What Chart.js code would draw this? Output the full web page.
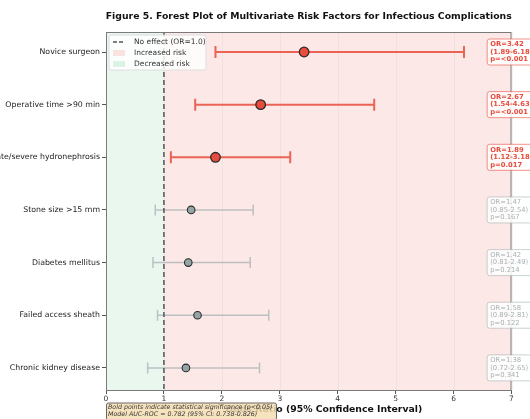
<!DOCTYPE html>
<html>
<head>
<meta charset="utf-8">
<script src="https://cdn.jsdelivr.net/npm/chart.js@4.4.1/dist/chart.umd.min.js"></script>
<style>
  html, body { margin: 0; padding: 0; background: #ffffff; }
  #wrap { width: 530px; height: 419px; }
</style>
</head>
<body>
<div id="wrap"><canvas id="forest" width="530" height="419"></canvas></div>
<script>
// Risk factors (top to bottom) with odds ratios and 95% CIs
const factors = [
  'Novice surgeon',
  'Operative time >90 min',
  'Moderate/severe hydronephrosis',
  'Stone size >15 mm',
  'Diabetes mellitus',
  'Failed access sheath',
  'Chronic kidney disease'
];
const oddsRatio = [3.42, 2.67, 1.89, 1.47, 1.42, 1.58, 1.38];
const ciLower   = [1.89, 1.54, 1.12, 0.85, 0.81, 0.89, 0.72];
const ciUpper   = [6.18, 4.63, 3.18, 2.54, 2.49, 2.81, 2.65];
const pLabels   = ['<0.001', '<0.001', '0.017', '0.167', '0.214', '0.122', '0.341'];
const significant = [true, true, true, false, false, false, false];
const xTicks = [0, 1, 2, 3, 4, 5, 6, 7];

const RED = '#e74c3c';
const GRAY = '#95a5a6';
const FONT = "'DejaVu Sans', sans-serif";

const points = oddsRatio.map((v, i) => ({ x: v, y: i }));

// Shaded regions, reference line, CIs, legend, value boxes and captions
const forestPlugin = {
  id: 'forestDecor',
  beforeDatasetsDraw(chart) {
    const { ctx, chartArea: a, scales: { x, y } } = chart;
    const one = x.getPixelForValue(1);
    ctx.save();
    // decreased / increased risk regions
    ctx.fillStyle = 'rgba(39,174,96,0.10)';
    ctx.fillRect(a.left, a.top, one - a.left, a.bottom - a.top);
    ctx.fillStyle = 'rgba(231,76,60,0.13)';
    ctx.fillRect(one, a.top, a.right - one, a.bottom - a.top);
    // faint vertical grid
    ctx.strokeStyle = 'rgba(190,190,190,0.25)';
    ctx.lineWidth = 0.8;
    xTicks.forEach(t => {
      const px = Math.round(x.getPixelForValue(t)) + 0.5;
      ctx.beginPath(); ctx.moveTo(px, a.top); ctx.lineTo(px, a.bottom); ctx.stroke();
    });
    // confidence intervals with caps
    factors.forEach((f, i) => {
      const sig = significant[i];
      const py = y.getPixelForValue(i);
      const x0 = x.getPixelForValue(ciLower[i]);
      const x1 = x.getPixelForValue(ciUpper[i]);
      const cap = sig ? 6 : 5.5;
      ctx.strokeStyle = sig ? 'rgba(231,76,60,0.85)' : 'rgba(170,178,180,0.75)';
      ctx.lineWidth = sig ? 2 : 1.5;
      ctx.beginPath();
      ctx.moveTo(x0, py); ctx.lineTo(x1, py);
      ctx.moveTo(x0, py - cap); ctx.lineTo(x0, py + cap);
      ctx.moveTo(x1, py - cap); ctx.lineTo(x1, py + cap);
      ctx.stroke();
    });
    // no-effect reference line
    ctx.strokeStyle = '#555555';
    ctx.lineWidth = 1.5;
    ctx.setLineDash([5, 3]);
    ctx.beginPath(); ctx.moveTo(one, a.top); ctx.lineTo(one, a.bottom); ctx.stroke();
    ctx.setLineDash([]);
    ctx.restore();
  },
  afterDraw(chart) {
    const { ctx, chartArea: a, scales: { x, y } } = chart;
    ctx.save();
    // frame
    ctx.strokeStyle = '#7a7a7a';
    ctx.lineWidth = 1;
    ctx.strokeRect(a.left + 0.5, a.top + 0.5, a.right - a.left - 1, a.bottom - a.top);

    // legend
    const lx = a.left + 3, ly = a.top + 3;
    ctx.fillStyle = 'rgba(255,255,255,0.85)';
    ctx.strokeStyle = '#dddddd';
    ctx.lineWidth = 1;
    roundRect(ctx, lx, ly, 97, 35, 2); ctx.fill(); ctx.stroke();
    ctx.font = '7.5px ' + FONT;
    ctx.textBaseline = 'middle';
    ctx.textAlign = 'left';
    const items = [
      { t: 'No effect (OR=1.0)', kind: 'line' },
      { t: 'Increased risk', kind: 'box', c: 'rgba(231,76,60,0.15)' },
      { t: 'Decreased risk', kind: 'box', c: 'rgba(39,174,96,0.15)' }
    ];
    items.forEach((it, k) => {
      const iy = ly + 7 + k * 11;
      if (it.kind === 'line') {
        ctx.strokeStyle = '#555555'; ctx.lineWidth = 1.5; ctx.setLineDash([4, 2]);
        ctx.beginPath(); ctx.moveTo(lx + 4, iy); ctx.lineTo(lx + 16, iy); ctx.stroke();
        ctx.setLineDash([]);
      } else {
        ctx.fillStyle = it.c; ctx.fillRect(lx + 4, iy - 3, 12, 6);
      }
      ctx.fillStyle = '#333333';
      ctx.fillText(it.t, lx + 25, iy + 0.5);
    });

    // value boxes on the right
    factors.forEach((f, i) => {
      const sig = significant[i];
      const py = y.getPixelForValue(i);
      const bx = x.getPixelForValue(6.58);
      ctx.fillStyle = 'rgba(255,255,255,0.85)';
      ctx.strokeStyle = sig ? 'rgba(231,76,60,0.6)' : 'rgba(149,165,166,0.5)';
      ctx.lineWidth = 1;
      roundRect(ctx, bx, py - 13, 48, 26, 2.5); ctx.fill(); ctx.stroke();
      ctx.fillStyle = sig ? RED : '#a6b1b2';
      ctx.font = (sig ? 'bold ' : '') + '6.8px ' + FONT;
      ctx.textAlign = 'left';
      ctx.textBaseline = 'middle';
      const lines = [
        'OR=' + oddsRatio[i].toFixed(2),
        '(' + ciLower[i].toFixed(2) + '-' + ciUpper[i].toFixed(2) + ')',
        'p=' + pLabels[i]
      ];
      lines.forEach((s, k) => ctx.fillText(s, bx + 3, py - 7.5 + k * 7.5));
    });

    // title
    ctx.fillStyle = '#111111';
    ctx.font = 'bold 9.3px ' + FONT;
    ctx.textAlign = 'center';
    ctx.textBaseline = 'middle';
    ctx.fillText('Figure 5. Forest Plot of Multivariate Risk Factors for Infectious Complications',
      (a.left + a.right) / 2, 17);

    // x-axis title
    ctx.font = 'bold 9.3px ' + FONT;
    ctx.fillText('Odds Ratio (95% Confidence Interval)', (a.left + a.right) / 2 + 15, a.bottom + 19.5);

    // footnote box
    const fx = a.left, fy = a.bottom + 12.5;
    ctx.fillStyle = 'rgba(245,222,179,0.85)';
    ctx.strokeStyle = '#444444';
    ctx.lineWidth = 0.8;
    roundRect(ctx, fx + 0.5, fy + 0.5, 170, 17, 2); ctx.fill(); ctx.stroke();
    ctx.fillStyle = '#333333';
    ctx.font = 'italic 6.3px ' + FONT;
    ctx.textAlign = 'left';
    ctx.fillText('Bold points indicate statistical significance (p<0.05)', fx + 2, fy + 5);
    ctx.fillText('Model AUC-ROC = 0.782 (95% CI: 0.738-0.826)', fx + 2, fy + 12);
    ctx.restore();
  }
};

function roundRect(ctx, x, y, w, h, r) {
  ctx.beginPath();
  ctx.moveTo(x + r, y);
  ctx.lineTo(x + w - r, y);
  ctx.quadraticCurveTo(x + w, y, x + w, y + r);
  ctx.lineTo(x + w, y + h - r);
  ctx.quadraticCurveTo(x + w, y + h, x + w - r, y + h);
  ctx.lineTo(x + r, y + h);
  ctx.quadraticCurveTo(x, y + h, x, y + h - r);
  ctx.lineTo(x, y + r);
  ctx.quadraticCurveTo(x, y, x + r, y);
  ctx.closePath();
}

new Chart(document.getElementById('forest'), {
  type: 'scatter',
  data: {
    datasets: [{
      data: points,
      pointRadius: significant.map(s => s ? 4.8 : 3.8),
      pointHoverRadius: significant.map(s => s ? 4.8 : 3.8),
      pointBackgroundColor: significant.map(s => s ? RED : GRAY),
      pointBorderColor: '#2b2b2b',
      pointBorderWidth: significant.map(s => s ? 1.3 : 1.1)
    }]
  },
  options: {
    responsive: false,
    devicePixelRatio: 1,
    animation: false,
    events: [],
    layout: { padding: { top: 32, right: 18.5, left: 0, bottom: 0 } },
    plugins: { legend: { display: false }, tooltip: { enabled: false }, title: { display: false } },
    scales: {
      x: {
        type: 'linear', min: 0, max: 7,
        afterBuildTicks: s => { s.ticks = xTicks.map(v => ({ value: v })); },
        afterFit: s => { s.height = 29; },
        grid: { drawOnChartArea: false, tickLength: 4, tickColor: '#555555' },
        border: { color: '#7a7a7a' },
        ticks: { padding: 1, color: '#333333', font: { family: FONT, size: 7.5 }, maxRotation: 0 }
      },
      y: {
        type: 'linear', min: -0.38, max: 6.42, reverse: true,
        afterBuildTicks: s => { s.ticks = factors.map((f, i) => ({ value: i })); },
        afterFit: s => { s.width = 106; },
        grid: { drawOnChartArea: false, tickLength: 4, tickColor: '#555555' },
        border: { color: '#7a7a7a' },
        ticks: {
          padding: 2, color: '#222222', font: { family: FONT, size: 7.8 },
          callback: v => factors[v]
        }
      }
    }
  },
  plugins: [forestPlugin]
});
</script>
</body>
</html>
